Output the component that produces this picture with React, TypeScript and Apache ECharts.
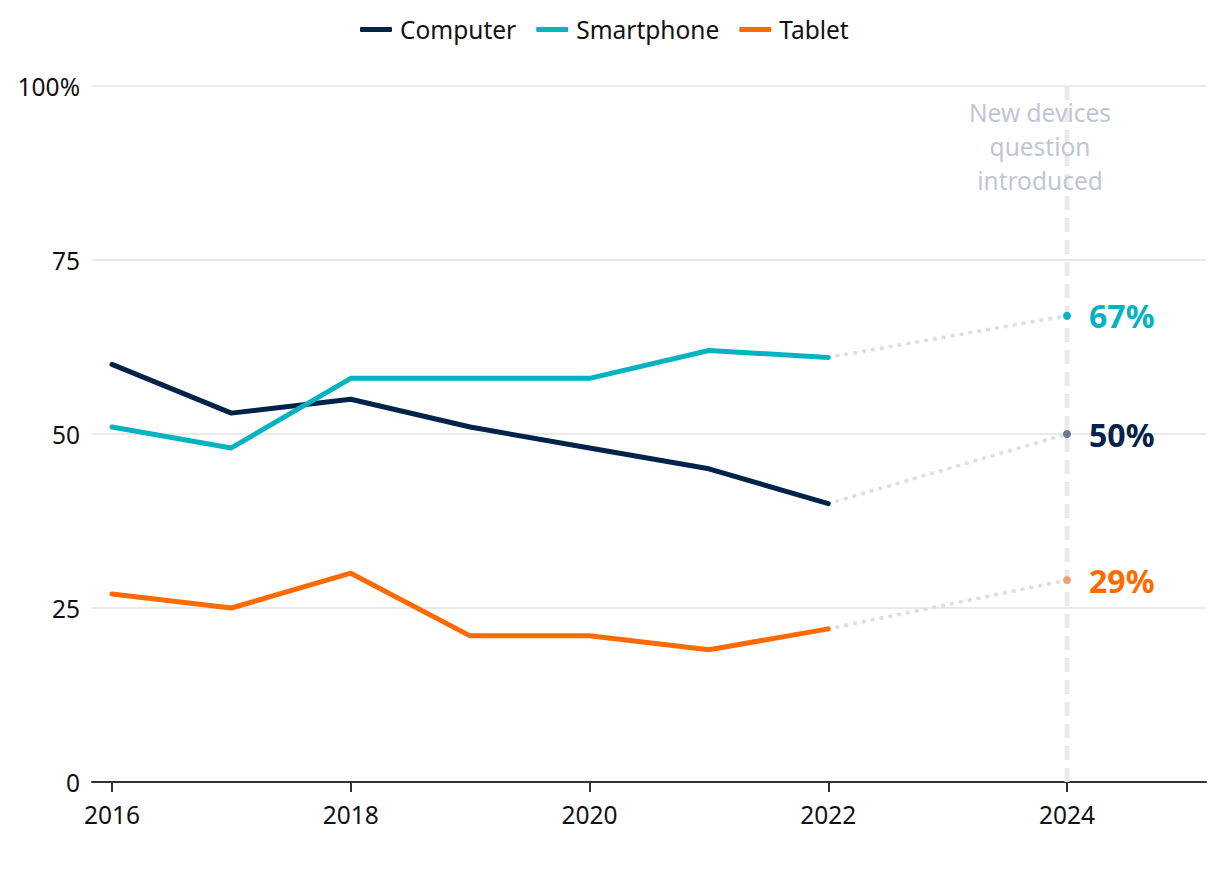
import React, { useEffect, useRef } from "react";
import * as echarts from "echarts";

const years = [2016, 2017, 2018, 2019, 2020, 2021, 2022];
const computer = [60, 53, 55, 51, 48, 45, 40];
const smartphone = [51, 48, 58, 58, 58, 62, 61];
const tablet = [27, 25, 30, 21, 21, 19, 22];
const newYear = 2024;
const computer2024 = 50;
const smartphone2024 = 67;
const tablet2024 = 29;
const xTicks = [2016, 2018, 2020, 2022, 2024];
const yRange = [0, 100];
const seriesNames = ["Computer", "Smartphone", "Tablet"];
const annotation = "New devices\nquestion\nintroduced";

const FONT = "'Noto Sans', sans-serif";
const COLORS = ["#012349", "#04b3c1", "#ff6a00"];
const DOT_COLORS = ["#6b7891", "#04b3c1", "#f3a073"];

export default function App() {
  const ref = useRef<HTMLDivElement>(null);
  useEffect(() => {
    if (!ref.current) return;
    const chart = echarts.init(ref.current, null, { renderer: "svg" });
    const mains = [computer, smartphone, tablet];
    const ends = [computer2024, smartphone2024, tablet2024];

    const mainSeries = mains.map((vals, i) => ({
      name: seriesNames[i],
      type: "line",
      data: years.map((y, k) => [y, vals[k]]),
      showSymbol: false,
      symbol: "none",
      lineStyle: { color: COLORS[i], width: 5, cap: "round", join: "round" },
      itemStyle: { color: COLORS[i] },
      z: 5,
    }));

    const connSeries = mains.map((vals, i) => ({
      name: seriesNames[i] + " new",
      type: "line",
      data: [
        { value: [years[years.length - 1], vals[vals.length - 1]], symbolSize: 0, label: { show: false } },
        { value: [newYear, ends[i]], symbolSize: 8 },
      ],
      symbol: "circle",
      showSymbol: true,
      lineStyle: { color: "#dcdfe7", width: 4, type: [0.5, 8.5], cap: "round" },
      itemStyle: { color: DOT_COLORS[i], borderWidth: 0 },
      label: {
        show: true,
        position: "right",
        distance: 18,
        formatter: (p: any) => p.value[1] + "%",
        color: COLORS[i],
        fontFamily: FONT,
        fontWeight: "bold",
        fontSize: 32,
      },
      z: 3,
      silent: true,
    }));

    const option: any = {
      animation: false,
      textStyle: { fontFamily: FONT },
      legend: {
        data: seriesNames,
        top: 12,
        left: 355,
        icon: "roundRect",
        itemWidth: 32,
        itemHeight: 5,
        itemGap: 20,
        textStyle: { fontFamily: FONT, fontSize: 24.5, color: "#111", padding: [0, 0, 0, 3] },
      },
      grid: { left: 92, right: 14, top: 86, bottom: 106, containLabel: false },
      xAxis: {
        type: "value",
        min: 2016 - 20 / 119.4,
        max: 2024 + 139 / 119.4,
        splitLine: { show: false },
        axisLine: { show: true, lineStyle: { color: "#333", width: 2 } },
        axisTick: { show: true, customValues: xTicks, length: 10, lineStyle: { color: "#333", width: 2 } },
        axisLabel: {
          customValues: xTicks,
          margin: 20,
          fontSize: 24.5,
          color: "#111",
          fontFamily: FONT,
          formatter: (v: number) => String(Math.round(v)),
        },
      },
      yAxis: {
        type: "value",
        min: yRange[0],
        max: yRange[1],
        interval: 25,
        axisLine: { show: false },
        axisTick: { show: false },
        splitLine: { lineStyle: { color: "#e2e2e2", width: 1.5 } },
        axisLabel: {
          margin: 12,
          fontSize: 24.5,
          color: "#111",
          fontFamily: FONT,
          formatter: (v: number) => (v === 100 ? "100%" : String(v)),
        },
      },
      series: [
        {
          name: "marker",
          type: "line",
          data: [
            [newYear, yRange[0]],
            [newYear, yRange[1]],
          ],
          symbol: "none",
          z: 1,
          silent: true,
          lineStyle: { color: "#e9eaf0", width: 5, type: [14, 8] },
        },
        ...connSeries,
        ...mainSeries,
      ],
      graphic: [
        {
          type: "text",
          x: 1040,
          y: 95,
          style: {
            text: annotation,
            align: "center",
            verticalAlign: "top",
            fill: "#c1c6d4",
            font: "24.5px 'Noto Sans', sans-serif",
            lineHeight: 34,
          },
          z: 10,
        },
      ],
    };
    chart.setOption(option);
    return () => chart.dispose();
  }, []);
  return (
    <div
      ref={ref}
      style={{ position: "absolute", left: 0, top: 0, width: 1220, height: 888, background: "#fff" }}
    />
  );
}
